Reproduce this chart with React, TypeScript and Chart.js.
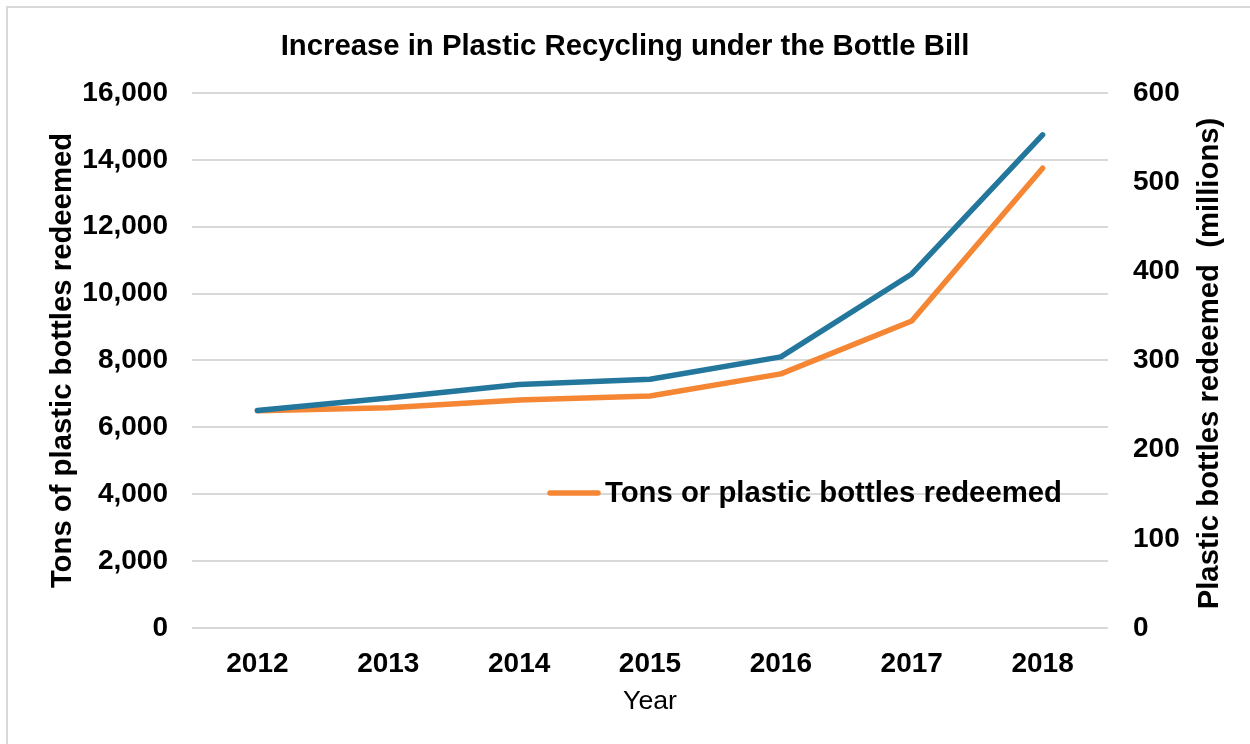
import React, { useEffect, useRef } from "react";
import { Chart, registerables } from "chart.js";

Chart.register(...registerables);

const years = ["2012", "2013", "2014", "2015", "2016", "2017", "2018"];
const bottlesMillions = [244, 258, 273, 279, 304, 397, 553];
const tonsRedeemed = [6500, 6590, 6820, 6940, 7600, 9180, 13750];
const leftTicks = [0, 2000, 4000, 6000, 8000, 10000, 12000, 14000, 16000];
const rightTicks = [0, 100, 200, 300, 400, 500, 600];

const FONT = "'Liberation Sans', Arial, sans-serif";
const BLUE = "#24779c";
const ORANGE = "#f58634";
const GRID = "#d9d9d9";

const overlayPlugin = {
  id: "overlayText",
  afterDatasetsDraw(chart: any) {
    const ctx = chart.ctx;
    const area = chart.chartArea;
    const y = 493;
    ctx.save();
    ctx.strokeStyle = ORANGE;
    ctx.lineWidth = 5.5;
    ctx.lineCap = "round";
    ctx.beginPath();
    ctx.moveTo(550, y);
    ctx.lineTo(598, y);
    ctx.stroke();
    ctx.fillStyle = "#000";
    ctx.font = `bold 29.3px ${FONT}`;
    ctx.textBaseline = "middle";
    ctx.textAlign = "left";
    ctx.fillText("Tons or plastic bottles redeemed", 605, y + 1);
    ctx.restore();

    // right axis title, reading bottom-to-top
    ctx.save();
    ctx.translate(1210, (area.top + area.bottom) / 2 + 3);
    ctx.rotate(-Math.PI / 2);
    ctx.fillStyle = "#000";
    ctx.font = `bold 29.3px ${FONT}`;
    ctx.textAlign = "center";
    ctx.textBaseline = "middle";
    ctx.fillText("Plastic bottles redeemed  (millions)", 0, 0);
    ctx.restore();
  },
};

export default function App() {
  const ref = useRef<HTMLCanvasElement>(null);
  useEffect(() => {
    if (!ref.current) return;
    const chart = new Chart(ref.current, {
      type: "line",
      data: {
        labels: years,
        datasets: [
          {
            label: "Plastic bottles redeemed (millions)",
            data: bottlesMillions,
            yAxisID: "y1",
            borderColor: BLUE,
            backgroundColor: BLUE,
            borderWidth: 5.5,
            pointRadius: 0,
            borderCapStyle: "round",
            borderJoinStyle: "round",
            tension: 0,
          },
          {
            label: "Tons or plastic bottles redeemed",
            data: tonsRedeemed,
            yAxisID: "y",
            borderColor: ORANGE,
            backgroundColor: ORANGE,
            borderWidth: 5.5,
            pointRadius: 0,
            borderCapStyle: "round",
            borderJoinStyle: "round",
            tension: 0,
          },
        ],
      },
      options: {
        responsive: false,
        animation: false,
        layout: { padding: 0, autoPadding: false },
        plugins: {
          legend: { display: false },
          tooltip: { enabled: false },
          title: {
            display: true,
            text: "Increase in Plastic Recycling under the Bottle Bill",
            color: "#000",
            font: { family: FONT, size: 29.3, weight: "bold", lineHeight: 1.2 },
            padding: { top: 29, bottom: 28.8 },
          },
        },
        scales: {
          x: {
            offset: true,
            grid: { display: false },
            border: { display: false },
            ticks: {
              color: "#000",
              font: { family: FONT, size: 28, weight: "bold" },
              padding: 11,
              maxRotation: 0,
            },
            title: {
              display: true,
              text: "Year",
              color: "#000",
              font: { family: FONT, size: 26.7 },
              padding: { top: 0, bottom: 26 },
            },
            afterFit: (s: any) => {
              s.height = 116;
            },
          },
          y: {
            position: "left",
            min: 0,
            max: 16000,
            afterBuildTicks: (s: any) => {
              s.ticks = leftTicks.map((v) => ({ value: v }));
            },
            grid: { color: GRID, lineWidth: 2, drawTicks: false },
            border: { display: false },
            ticks: {
              color: "#000",
              font: { family: FONT, size: 28, weight: "bold" },
              padding: 24,
              callback: (v: any) => Number(v).toLocaleString("en-US"),
            },
            title: {
              display: true,
              text: "Tons of plastic bottles redeemed",
              color: "#000",
              font: { family: FONT, size: 29.3, weight: "bold", lineHeight: 1.2 },
              padding: { top: 45, bottom: 0 },
            },
            afterFit: (s: any) => {
              s.width = 192;
            },
          },
          y1: {
            position: "right",
            min: 0,
            max: 600,
            afterBuildTicks: (s: any) => {
              s.ticks = rightTicks.map((v) => ({ value: v }));
            },
            grid: { display: false, drawTicks: false },
            border: { display: false },
            ticks: {
              color: "#000",
              font: { family: FONT, size: 28, weight: "bold" },
              padding: 25,
            },
            title: { display: false },
            afterFit: (s: any) => {
              s.width = 142;
            },
          },
        },
      },
      plugins: [overlayPlugin],
    });
    return () => chart.destroy();
  }, []);

  return (
    <div
      style={{
        position: "absolute",
        left: 0,
        top: 0,
        width: 1250,
        height: 744,
        background: "#fff",
        overflow: "hidden",
      }}
    >
      <div
        style={{
          position: "absolute",
          left: 6,
          top: 6,
          width: 1300,
          height: 800,
          borderTop: "2px solid #d9d9d9",
          borderLeft: "2px solid #d9d9d9",
        }}
      />
      <canvas
        ref={ref}
        width={1250}
        height={744}
        style={{ position: "absolute", left: 0, top: 0 }}
      />
    </div>
  );
}
